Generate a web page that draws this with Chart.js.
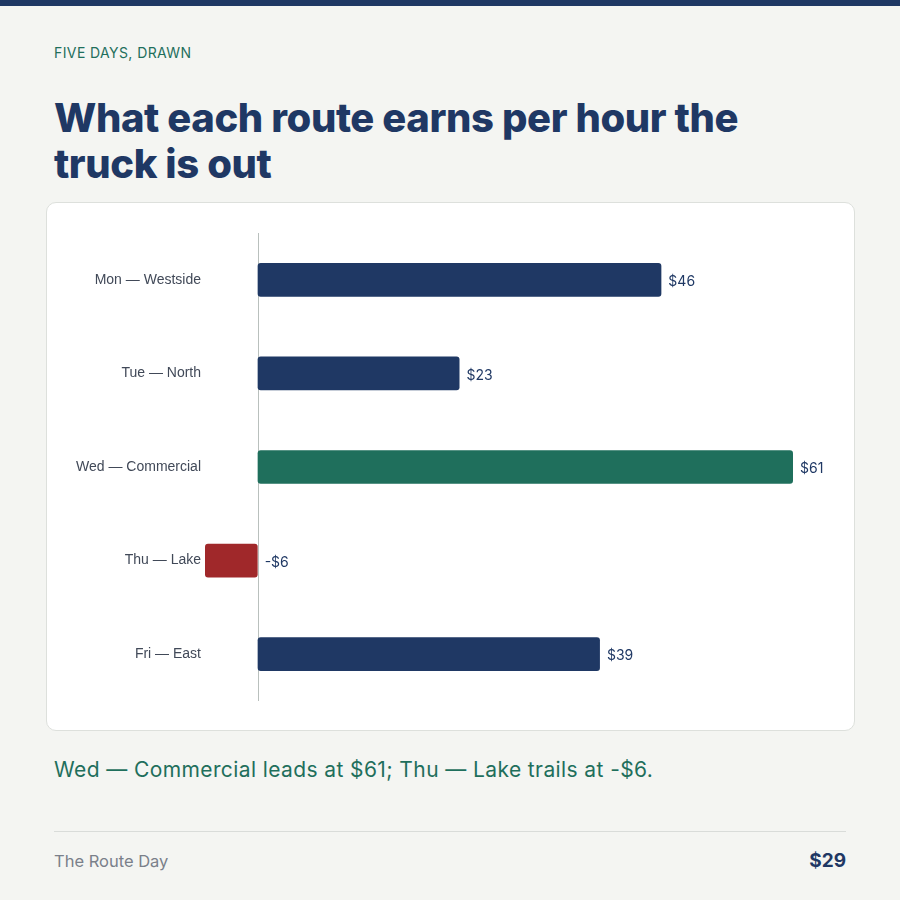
<!DOCTYPE html>
<html>
<head>
<meta charset="utf-8">
<script src="https://cdn.jsdelivr.net/npm/chart.js@4.4.1/dist/chart.umd.min.js"></script>
<style>
  html, body { margin: 0; padding: 0; }
  body {
    width: 900px; height: 900px; overflow: hidden;
    background: #f4f5f2; position: relative;
    font-family: "Inter", "Noto Sans", sans-serif;
  }
  .topbar { position: absolute; left: 0; top: 0; width: 900px; height: 6px; background: #1f3864; }
  .kicker { position: absolute; left: 54px; top: 44px; font-size: 14px; color: #1f6f5c; letter-spacing: 0.4px; }
  h1 {
    position: absolute; left: 54px; top: 95px; margin: 0; width: 720px;
    font-size: 40px; line-height: 46px; font-weight: 800; color: #1f3864; letter-spacing: -0.4px;
  }
  .card {
    position: absolute; left: 46px; top: 202px; width: 807px; height: 527px;
    background: #fff; border: 1px solid #dde0dc; border-radius: 10px;
  }
  .card canvas { position: absolute; left: 0; top: 0; }
  .takeaway { position: absolute; left: 54px; top: 757px; font-size: 21px; color: #1f6f5c; letter-spacing: 0.4px; }
  .rule { position: absolute; left: 54px; top: 831px; width: 792px; height: 1px; background: #d9dcd9; }
  .source { position: absolute; left: 54px; top: 851px; font-size: 16.5px; color: #7a808a; }
  .total { position: absolute; right: 54px; top: 849px; font-size: 19px; font-weight: 700; color: #1f3864; }
</style>
</head>
<body>
<div class="topbar"></div>
<div class="kicker">FIVE DAYS, DRAWN</div>
<h1>What each route earns per hour the truck is out</h1>
<div class="card"><canvas id="routeChart" width="807" height="527"></canvas></div>
<div class="takeaway">Wed — Commercial leads at $61; Thu — Lake trails at -$6.</div>
<div class="rule"></div>
<div class="source">The Route Day</div>
<div class="total">$29</div>

<script>
// Route labels and earnings per hour (USD)
const routes = ['Mon — Westside', 'Tue — North', 'Wed — Commercial', 'Thu — Lake', 'Fri — East'];
const earnings = [46, 23, 61, -6, 39];
const barColors = ['#1f3864', '#1f3864', '#1f6f5c', '#a0282a', '#1f3864'];

function money(v) {
    return v < 0 ? '-$' + Math.abs(v) : '$' + v;
}

// zero line plus value labels next to each bar
const barLabels = {
    id: 'barLabels',
    beforeDatasetsDraw(chart) {
        const { ctx, chartArea, scales } = chart;
        const x0 = Math.round(scales.x.getPixelForValue(0)) + 0.5;
        ctx.save();
        ctx.strokeStyle = '#b9c0bd';
        ctx.lineWidth = 1;
        ctx.beginPath();
        ctx.moveTo(x0, chartArea.top);
        ctx.lineTo(x0, chartArea.bottom);
        ctx.stroke();
        ctx.restore();
    },
    afterDatasetsDraw(chart) {
        const { ctx } = chart;
        const meta = chart.getDatasetMeta(0);
        ctx.save();
        ctx.font = '14px "Inter", "Noto Sans", sans-serif';
        ctx.fillStyle = '#1f3864';
        ctx.textBaseline = 'middle';
        ctx.textAlign = 'left';
        meta.data.forEach((bar, i) => {
            const x = Math.max(bar.x, bar.base) + 7;
            ctx.fillText(money(earnings[i]), x, bar.y + 2);
        });
        ctx.restore();
    }
};

const ctx = document.getElementById('routeChart').getContext('2d');
new Chart(ctx, {
    type: 'bar',
    data: {
        labels: routes,
        datasets: [{
            data: earnings,
            backgroundColor: barColors,
            borderRadius: 3,
            borderSkipped: false,
            categoryPercentage: 0.72,
            barPercentage: 0.5
        }]
    },
    options: {
        indexAxis: 'y',
        responsive: false,
        animation: false,
        layout: { padding: { top: 30, bottom: 29, right: 61, left: 0 } },
        plugins: { legend: { display: false }, tooltip: { enabled: false } },
        scales: {
            x: { display: false, min: -6, max: 61 },
            y: {
                grid: { display: false, drawTicks: false },
                border: { display: false },
                ticks: {
                    padding: 4,
                    color: '#414958',
                    font: { family: '"Liberation Sans", Arial, sans-serif', size: 14 }
                },
                afterFit(axis) { axis.width = 158; }
            }
        }
    },
    plugins: [barLabels]
});
</script>
</body>
</html>
